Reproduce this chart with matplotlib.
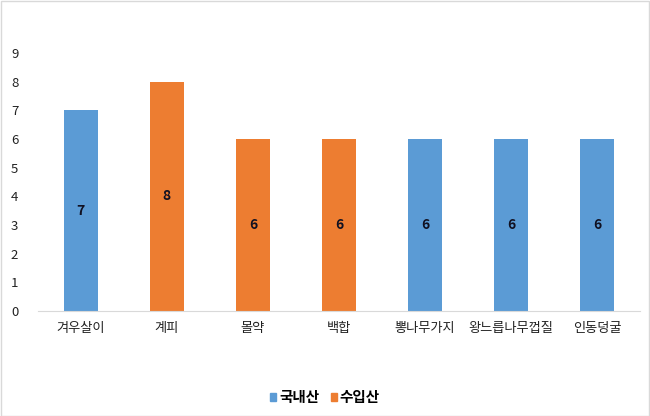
import matplotlib.pyplot as plt
from matplotlib.patches import Rectangle, Patch

plt.rcParams['font.family'] = ['Noto Sans CJK KR', 'DejaVu Sans']

categories = ["겨우살이", "계피", "몰약", "백합", "뽕나무가지", "왕느릅나무껍질", "인동덩굴"]
values = [7, 8, 6, 6, 6, 6, 6]
origin = ["국내산", "수입산", "수입산", "수입산", "국내산", "국내산", "국내산"]

colors = {"국내산": "#5B9BD5", "수입산": "#ED7D31"}

fig = plt.figure(figsize=(6.5, 4.16), dpi=100)
ax = fig.add_axes([0.058, 0.252, 0.927, 0.621])

x = range(len(categories))
ax.bar(x, values, width=0.4, color=[colors[o] for o in origin])
for xi, v in zip(x, values):
    ax.text(xi, v / 2, str(v), ha="center", va="center", fontsize=10,
            fontweight="bold", color="#111122")

ax.set_xlim(-0.5, len(categories) - 0.5)
ax.set_ylim(0, 9)
ax.set_yticks(range(10))
ax.set_xticks(list(x))
ax.set_xticklabels(categories, fontsize=9.5, fontweight="medium")
ax.tick_params(axis="both", length=0, colors="#222222")
ax.tick_params(axis="y", labelsize=9.5, pad=14)
ax.tick_params(axis="x", pad=8)
for s in ["top", "right", "left"]:
    ax.spines[s].set_visible(False)
ax.spines["bottom"].set_color("#D9D9D9")

handles = [Patch(color=colors[k], label=k) for k in ["국내산", "수입산"]]
leg = fig.legend(handles=handles, loc="center", bbox_to_anchor=(0.5, 0.045),
                 ncol=2, frameon=False, handlelength=0.4, handleheight=0.4,
                 handletextpad=0.2, columnspacing=0.8,
                 prop={"family": ["Noto Sans CJK KR"], "weight": "bold", "size": 10.5})

fig.patches.append(Rectangle((0.001, 0.001), 0.997, 0.997, transform=fig.transFigure,
                             fill=False, edgecolor="#D9D9D9", linewidth=1))

fig.savefig("out.png", dpi=100)
